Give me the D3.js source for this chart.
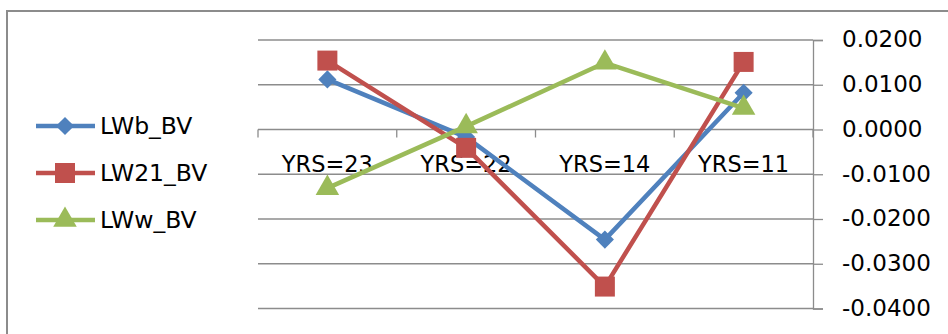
<!DOCTYPE html>
<html>
<head>
<meta charset="utf-8">
<script src="https://cdn.jsdelivr.net/npm/d3@7/dist/d3.min.js"></script>
<style>
  html, body { margin: 0; padding: 0; background: #fff; }
  svg { display: block; }
  text { font-family: "DejaVu Sans", "Liberation Sans", sans-serif; fill: #000; }
</style>
</head>
<body>
<div id="chart"></div>
<script>
/* Excel-style line chart, right value axis, legend on the left */

const categories = ["YRS=23", "YRS=22", "YRS=14", "YRS=11"];
const seriesNames = ["LWb_BV", "LW21_BV", "LWw_BV"];
const lwbValues  = [0.0112, -0.0017, -0.0246, 0.0082];
const lw21Values = [0.0154, -0.0041, -0.0351, 0.0151];
const lwwValues  = [-0.0131, 0.0007, 0.0149, 0.0048];
const yTicks = [0.02, 0.01, 0, -0.01, -0.02, -0.03, -0.04];

const W = 948, H = 334;
const plot = { left: 258, right: 813, top: 40, bottom: 308.5 };

const series = [
  { name: seriesNames[0], values: lwbValues,  color: "#4F81BD", shape: "diamond" },
  { name: seriesNames[1], values: lw21Values, color: "#C0504D", shape: "square" },
  { name: seriesNames[2], values: lwwValues,  color: "#9BBB59", shape: "triangle" },
];

const svg = d3.select("#chart").append("svg")
  .attr("width", W).attr("height", H);

// outer chart border
svg.append("rect")
  .attr("x", 7).attr("y", 11)
  .attr("width", W + 20).attr("height", H + 20)
  .attr("fill", "#fff")
  .attr("stroke", "#8c8c8c").attr("stroke-width", 2);

const x = d3.scaleBand().domain(categories).range([plot.left, plot.right]);
const y = d3.scaleLinear().domain([-0.04, 0.02]).range([plot.bottom, plot.top]);

// gridlines
svg.append("g").selectAll("line")
  .data(yTicks.filter(t => t !== 0))
  .join("line")
  .attr("x1", plot.left).attr("x2", plot.right)
  .attr("y1", d => y(d)).attr("y2", d => y(d))
  .attr("stroke", "#8c8c8c").attr("stroke-width", 1.3);

// right value axis
const yAxis = svg.append("g")
  .attr("transform", `translate(${plot.right},0)`)
  .call(d3.axisRight(y).tickValues(yTicks).tickSize(10).tickPadding(19)
    .tickFormat(d3.format(".4f")));
yAxis.select(".domain").attr("stroke", "#8c8c8c").attr("stroke-width", 1.3);
yAxis.selectAll(".tick line").attr("stroke", "#8c8c8c").attr("stroke-width", 1.3);
yAxis.selectAll(".tick text")
  .attr("font-size", 23)
  .attr("dy", "0.3em")
  .text(d => d3.format(".4f")(d).replace("−", "-"));

// category axis at zero
const xAxis = svg.append("g")
  .attr("transform", `translate(0,${y(0)})`)
  .call(d3.axisBottom(x).tickSize(0).tickPadding(27));
xAxis.select(".domain").remove();
xAxis.append("line")
  .attr("x1", plot.left).attr("x2", plot.right)
  .attr("stroke", "#8c8c8c").attr("stroke-width", 1.3);
xAxis.selectAll(".bound")
  .data(categories.map(c => x(c)).concat([plot.right]))
  .join("line")
  .attr("class", "bound")
  .attr("x1", d => d).attr("x2", d => d)
  .attr("y1", 0).attr("y2", 8)
  .attr("stroke", "#8c8c8c").attr("stroke-width", 1.3);
xAxis.selectAll(".tick text").attr("font-size", 22.5).attr("dy", "0.71em");

// marker shapes
const symbolFor = {
  diamond:  d3.symbol().type(d3.symbolDiamond2).size(210),
  square:   d3.symbol().type(d3.symbolSquare).size(400),
  triangle: d3.symbol().type(d3.symbolTriangle).size(240),
};

const line = d3.line()
  .x((d, i) => x(categories[i]) + x.bandwidth() / 2)
  .y(d => y(d));

const seriesG = svg.append("g").selectAll("g")
  .data(series)
  .join("g");

seriesG.append("path")
  .attr("d", d => line(d.values))
  .attr("fill", "none")
  .attr("stroke", d => d.color)
  .attr("stroke-width", 4.5)
  .attr("stroke-linejoin", "round");

seriesG.each(function(s) {
  d3.select(this).selectAll("path.mark")
    .data(s.values)
    .join("path")
    .attr("class", "mark")
    .attr("transform", (d, i) => `translate(${x(categories[i]) + x.bandwidth() / 2},${y(d)})`)
    .attr("d", symbolFor[s.shape]())
    .attr("fill", s.color);
});

// legend
const legendY = d3.scalePoint().domain(seriesNames).range([126, 220]);
const legend = svg.append("g").selectAll("g")
  .data(series)
  .join("g")
  .attr("transform", d => `translate(0,${legendY(d.name)})`);

legend.append("line")
  .attr("x1", 36).attr("x2", 95)
  .attr("stroke", d => d.color).attr("stroke-width", 4.5);
legend.append("path")
  .attr("transform", "translate(65,0)")
  .attr("d", d => symbolFor[d.shape]())
  .attr("fill", d => d.color);
legend.append("text")
  .attr("x", 100).attr("dy", "0.36em")
  .attr("font-size", 23.5)
  .text(d => d.name);
</script>
</body>
</html>
